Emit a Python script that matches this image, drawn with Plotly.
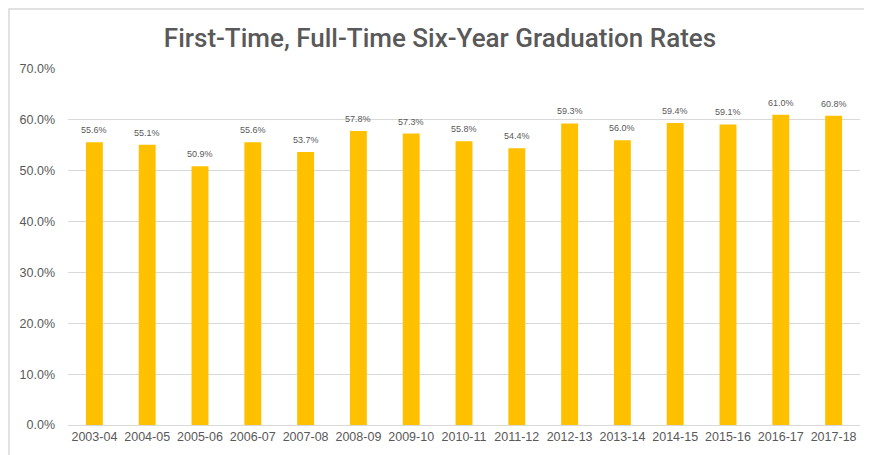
import plotly.graph_objects as go

years = ["2003-04", "2004-05", "2005-06", "2006-07", "2007-08", "2008-09", "2009-10",
         "2010-11", "2011-12", "2012-13", "2013-14", "2014-15", "2015-16", "2016-17", "2017-18"]
rates = [55.6, 55.1, 50.9, 55.6, 53.7, 57.8, 57.3, 55.8, 54.4, 59.3, 56.0, 59.4, 59.1, 61.0, 60.8]

# page has an 8px body margin, so the figure is sized to the visible window
W, H = 864, 447
ML, MR, MT, MB = 60, 12, 61, 30

fig = go.Figure(go.Bar(
    x=years,
    y=rates,
    marker_color="#FFC000",
    marker_line_width=0,
    width=0.32,
    hovertemplate="%{x}: %{y:.1f}%<extra></extra>",
))

# value labels sit a little above each bar
for yr, v in zip(years, rates):
    fig.add_annotation(
        x=yr, y=v, text=f"{v:.1f}%", showarrow=False,
        yanchor="bottom", yshift=5,
        font=dict(family="Liberation Sans", size=9, color="#595959"),
    )

pw = W - ML - MR
ph = H - MT - MB
# light frame around the chart area (right/bottom run off the page)
fig.add_shape(
    type="rect", xref="paper", yref="paper",
    x0=(1 - ML) / pw, x1=(W + 10 - ML) / pw,
    y0=-(MB + 10) / ph, y1=(ph + MT - 1) / ph,
    line=dict(color="#d9d9d9", width=1.5), fillcolor="rgba(0,0,0,0)",
)

fig.update_layout(
    width=W, height=H,
    template="plotly_white",
    paper_bgcolor="white", plot_bgcolor="white",
    margin=dict(l=ML, r=MR, t=MT, b=MB),
    title=dict(text="First-Time, Full-Time Six-Year Graduation Rates",
               x=0.5, xanchor="center", y=1 - 30 / H, yanchor="middle",
               font=dict(family="Roboto", size=26, color="#595959", weight=500)),
    showlegend=False,
)
fig.update_xaxes(
    type="category",
    showgrid=False, showline=True, linecolor="#d9d9d9", linewidth=1,
    tickfont=dict(family="Liberation Sans", size=12.5, color="#595959"),
    ticks="",
)
fig.update_yaxes(
    range=[0, 70], dtick=10, ticksuffix="%", tickformat=".1f",
    gridcolor="#d9d9d9", zeroline=False, showline=False,
    tickfont=dict(family="Liberation Sans", size=12.5, color="#595959"),
    ticklabelstandoff=12,
)

fig.write_html("out.html")
